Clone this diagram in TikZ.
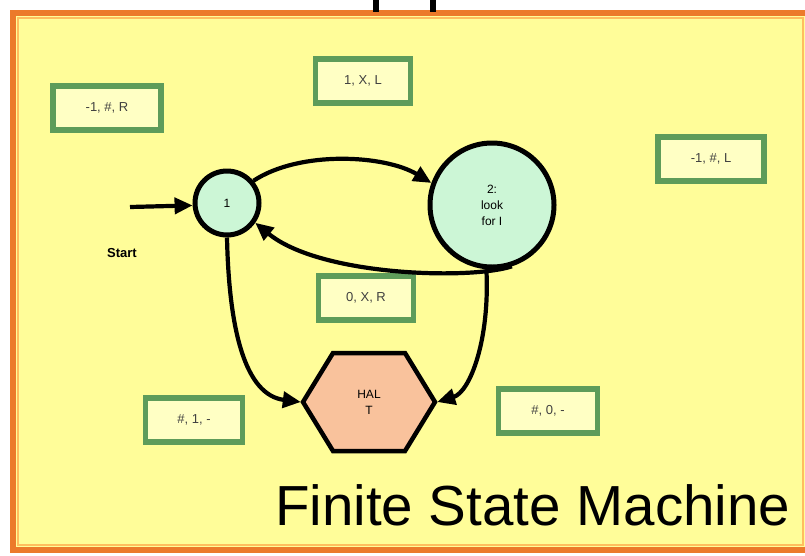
\documentclass[tikz,border=0pt]{standalone}
\usepackage{fontspec}
\setmainfont{Liberation Sans}
\usetikzlibrary{arrows.meta,calc}
\definecolor{framebg}{HTML}{FFFD99}
\definecolor{frameorange}{HTML}{EC7A2A}
\definecolor{framelight}{HTML}{FFBE5E}
\definecolor{boxgreen}{HTML}{5E9C5A}
\definecolor{boxfill}{HTML}{FFFFC4}
\definecolor{statefill}{HTML}{CCF6D6}
\definecolor{haltfill}{HTML}{F9C29C}
\begin{document}
\begin{tikzpicture}[x=1pt,y=-1pt,
	lbl/.style={draw=boxgreen,line width=5.5pt,fill=boxfill,minimum height=44pt,inner sep=0pt,
		font=\fontsize{13}{16}\selectfont,text=black!75},
	state/.style={circle,draw=black,line width=5pt,fill=statefill,inner sep=0pt,align=center,
		font=\fontsize{12}{16}\selectfont},
	edge/.style={line width=4.2pt,-{Triangle[length=18pt,width=16pt]}}]
		\useasboundingbox (0,0) rectangle (805,555);
		% frame
		\fill [framebg] (13,13) rectangle (808,550);
		\draw [frameorange,line width=6pt] (13,13) rectangle (809,550);
		\draw [framelight,line width=2.5pt] (18,18) rectangle (803,545);
		\draw [line width=6pt] (375.5,0)--(375.5,12);
		\draw [line width=6pt] (433,0)--(433,12);
		% transition labels
		\node [lbl,minimum width=108pt] (lbl1) at (107,108) {-1, \#, R};
		\node [lbl,minimum width=95pt] (lbl2) at (363,81) {1, X, L};
		\node [lbl,minimum width=106pt] (lbl3) at (711,159) {-1, \#, L};
		\node [lbl,minimum width=95pt] (lbl4) at (366,298) {0, X, R};
		\node [lbl,minimum width=97pt] (lbl5) at (194,420) {\#, 1, -};
		\node [lbl,minimum width=99pt] (lbl6) at (548,411) {\#, 0, -};
		% states
		\node [state,minimum size=64pt] (s1) at (227,203) {1};
		\node [state,minimum size=124pt] (s2) at (492,205) {2:\\look\\for I};
		\coordinate (haltc) at (369,402);
		\filldraw [fill=haltfill,line width=4.5pt] ($(haltc)+(-66,0)$) -- ($(haltc)+(-36,-49)$) -- ($(haltc)+(36,-49)$)
			-- ($(haltc)+(66,0)$) -- ($(haltc)+(36,49)$) -- ($(haltc)+(-36,49)$) -- cycle;
		\node [align=center,inner sep=0pt,minimum width=136pt,minimum height=98pt,font=\fontsize{12}{16}\selectfont] (halt) at (haltc) {HAL\\T};
		% start
		\coordinate (startin) at (130,207);
		\node [font=\bfseries\fontsize{13}{14}\selectfont] (start) at (122,253) {Start};
		\draw [edge] (startin) -- (s1.184);
		% transitions
		\draw [edge] (s1.40) .. controls (300,150) and (385,155) .. (s2.160);
		\draw [edge] (s2.-72) .. controls (470,280) and (320,276) .. (s1.-35);
		\draw [edge] (s1.south) .. controls (229,330) and (245,395) .. (halt.west);
		\draw [edge] (s2.-95) .. controls (490,340) and (470,392) .. (halt.east);
		\node [anchor=base west,inner sep=0pt,font=\fontsize{56.5}{60}\selectfont] (title) at (275,525) {Finite State Machine};
	\end{tikzpicture}
\end{document}
